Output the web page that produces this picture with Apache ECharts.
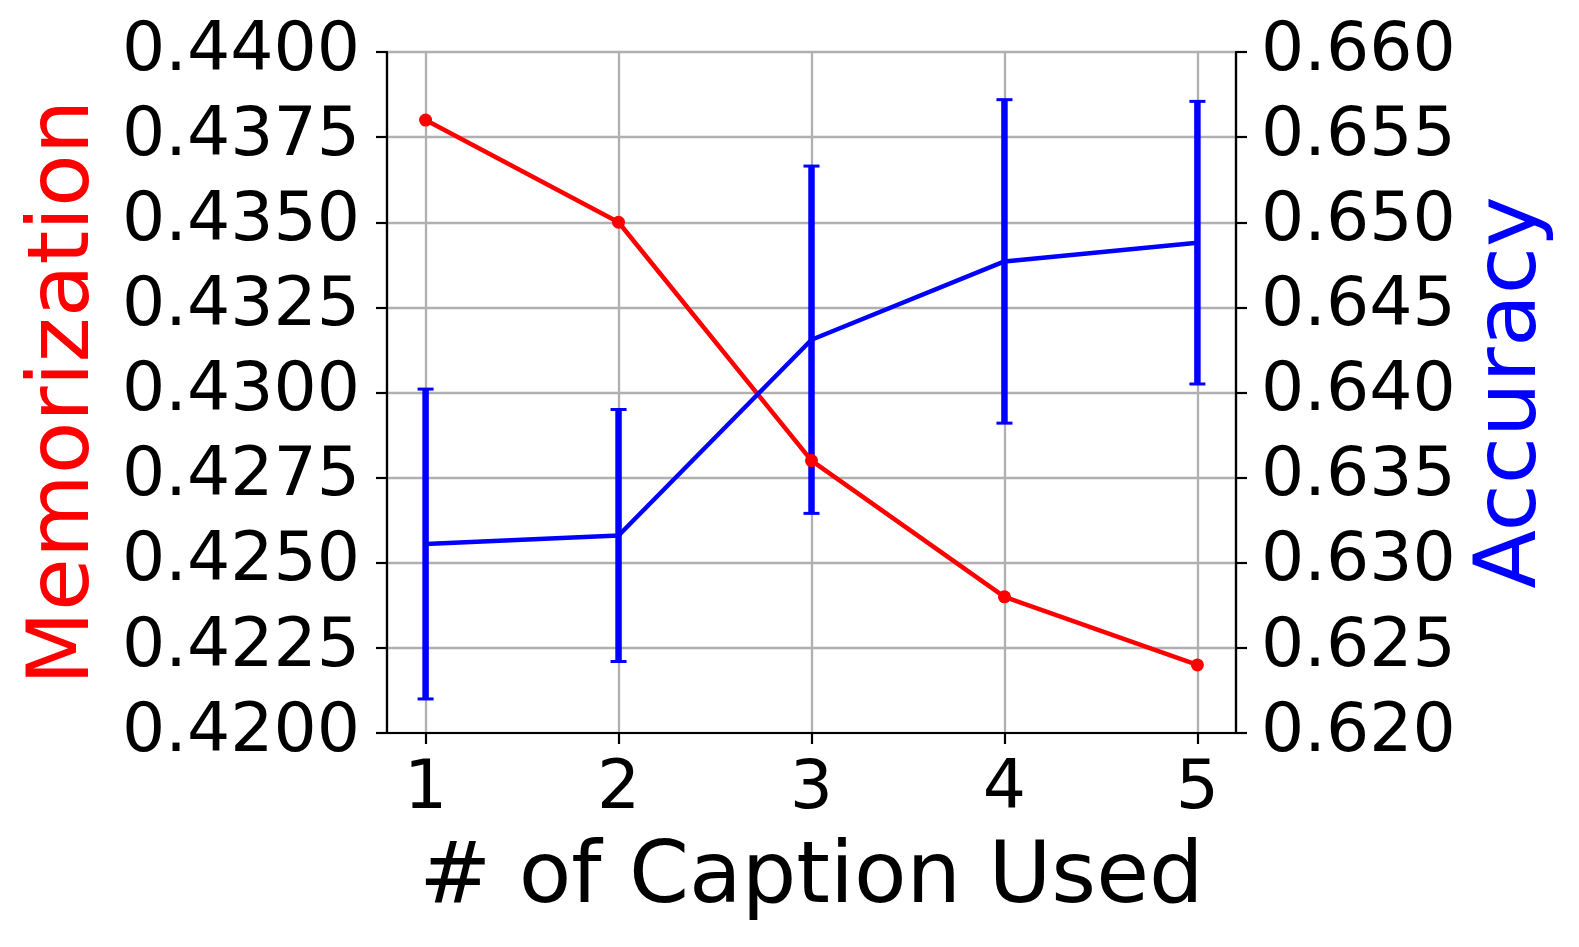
<!DOCTYPE html>
<html>
<head>
<meta charset="utf-8">
<title>Memorization vs Accuracy</title>
<script src="https://cdn.jsdelivr.net/npm/echarts@6/dist/echarts.min.js"></script>
<style>
  html, body { margin: 0; padding: 0; background: #fff; }
  #chart { width: 1579px; height: 947px; }
</style>
</head>
<body>
<div id="chart"></div>
<script>
// 数据
var captions = [1, 2, 3, 4, 5];
var memorization = [0.438, 0.435, 0.428, 0.424, 0.422];
var accuracy = [0.6311, 0.6316, 0.6431, 0.6477, 0.6488];
var accuracyLow = [0.6220, 0.6242, 0.6329, 0.6382, 0.6405];
var accuracyHigh = [0.6402, 0.6390, 0.6533, 0.6572, 0.6571];

var font = 'DejaVu Sans';
var tickFont = 68;
var nameFont = 86;

// error bar drawn through the axis scales
var renderErrorBar = function(params, api) {
  var x = api.value(0);
  var low = api.coord([x, api.value(1)]);
  var high = api.coord([x, api.value(2)]);
  var half = 8;
  var capStyle = { stroke: '#0000ff', lineWidth: 3 };
  return {
    type: 'group',
    children: [
      { type: 'line', shape: { x1: low[0], y1: low[1], x2: high[0], y2: high[1] },
        style: { stroke: '#0000ff', lineWidth: 6.5 } },
      { type: 'line', shape: { x1: high[0] - half, y1: high[1], x2: high[0] + half, y2: high[1] }, style: capStyle },
      { type: 'line', shape: { x1: low[0] - half, y1: low[1], x2: low[0] + half, y2: low[1] }, style: capStyle }
    ]
  };
};

var pairs = function(xs, ys) {
  return xs.map(function(x, i) { return [x, ys[i]]; });
};

var chart = echarts.init(document.getElementById('chart'));
var option = {
  animation: false,
  textStyle: { fontFamily: font },
  grid: {
    left: 387, right: 343, top: 52, bottom: 214,
    show: true, borderColor: '#000', borderWidth: 2.2, backgroundColor: 'transparent'
  },
  xAxis: {
    type: 'value',
    min: 0.8,
    max: 5.2,
    name: '# of Caption Used',
    nameLocation: 'middle',
    nameGap: 104,
    nameTextStyle: { fontSize: nameFont, color: '#000', fontFamily: font },
    axisLine: { show: true, lineStyle: { color: '#000', width: 2.2 } },
    axisTick: { show: true, length: 11, lineStyle: { color: '#000', width: 2.2 }, customValues: captions },
    axisLabel: { fontSize: tickFont, color: '#000', margin: 23, fontFamily: font, customValues: captions },
    splitLine: { show: true, lineStyle: { color: '#b0b0b0', width: 2.3 } }
  },
  yAxis: [{
    type: 'value',
    min: 0.42,
    max: 0.44,
    interval: 0.0025,
    name: 'Memorization',
    nameLocation: 'middle',
    nameGap: 278,
    nameTextStyle: { fontSize: nameFont, color: '#ff0000', fontFamily: font },
    axisLine: { show: true, lineStyle: { color: '#000', width: 2.2 } },
    axisTick: { show: true, length: 11, lineStyle: { color: '#000', width: 2.2 } },
    axisLabel: {
      fontSize: tickFont, color: '#000', margin: 27, fontFamily: font,
      formatter: function(v) { return v.toFixed(4); }
    },
    splitLine: { show: true, lineStyle: { color: '#b0b0b0', width: 2.3 } }
  }, {
    type: 'value',
    position: 'right',
    min: 0.62,
    max: 0.66,
    interval: 0.005,
    name: 'Accuracy',
    nameLocation: 'middle',
    nameGap: 234,
    nameTextStyle: { fontSize: nameFont, color: '#0000ff', fontFamily: font },
    axisLine: { show: true, lineStyle: { color: '#000', width: 2.2 } },
    axisTick: { show: true, length: 11, lineStyle: { color: '#000', width: 2.2 } },
    axisLabel: {
      fontSize: tickFont, color: '#000', margin: 25, fontFamily: font,
      formatter: function(v) { return v.toFixed(3); }
    },
    splitLine: { show: false }
  }],
  series: [{
    name: 'Memorization',
    type: 'line',
    yAxisIndex: 0,
    data: pairs(captions, memorization),
    symbol: 'circle',
    symbolSize: 13,
    itemStyle: { color: '#ff0000' },
    lineStyle: { color: '#ff0000', width: 4.5 }
  }, {
    name: 'Accuracy',
    type: 'line',
    yAxisIndex: 1,
    data: pairs(captions, accuracy),
    symbol: 'none',
    lineStyle: { color: '#0000ff', width: 4.5 }
  }, {
    name: 'Accuracy std',
    type: 'custom',
    yAxisIndex: 1,
    renderItem: renderErrorBar,
    encode: { x: 0, y: [1, 2] },
    data: captions.map(function(x, i) { return [x, accuracyLow[i], accuracyHigh[i]]; }),
    z: 3
  }]
};
chart.setOption(option);
</script>
</body>
</html>
